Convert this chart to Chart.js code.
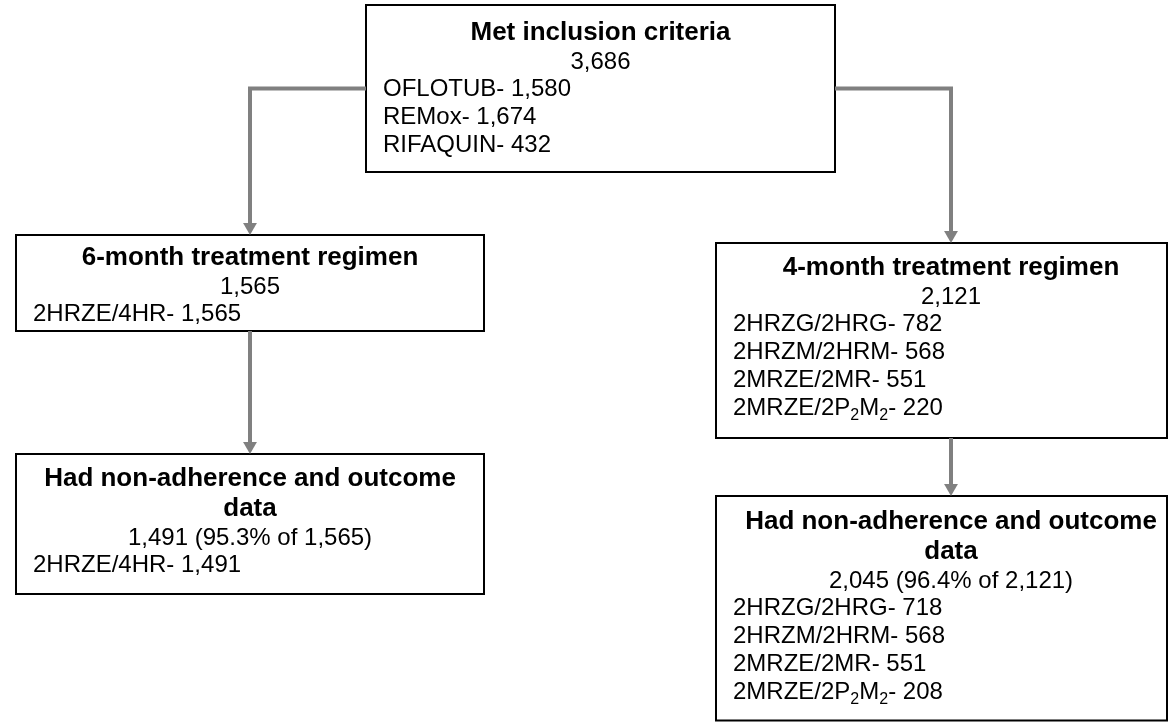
<!DOCTYPE html>
<html>
<head>
<meta charset="utf-8">
<script src="https://cdn.jsdelivr.net/npm/chart.js@4.4.1/dist/chart.umd.min.js"></script>
<style>
  html, body { margin: 0; padding: 0; background: #fff; }
  #flow { display: block; }
</style>
</head>
<body>
<canvas id="flow" width="1169" height="722"></canvas>
<script>
// Trials that met inclusion criteria
const trials = ['OFLOTUB', 'REMox', 'RIFAQUIN'];
const trialCounts = [1580, 1674, 432];

// 6-month arm
const sixMonthRegimens = ['2HRZE/4HR'];
const sixMonthCounts = [1565];
const sixMonthWithData = [1491];

// 4-month arm ("_2" marks a subscript 2)
const fourMonthRegimens = ['2HRZG/2HRG', '2HRZM/2HRM', '2MRZE/2MR', '2MRZE/2P_2M_2'];
const fourMonthCounts = [782, 568, 551, 220];
const fourMonthWithData = [718, 568, 551, 208];

const titles = {
    top: 'Met inclusion criteria',
    six: '6-month treatment regimen',
    four: '4-month treatment regimen',
    out: 'Had non-adherence and outcome data'
};

// Box geometry in chart units (x: 0..1169, y: 0..722, y downwards).
// cx = column centre used for the text and the arrows; the right column
// runs off the edge of the page so its boxes are cut short.
const boxes = {
    top:     { x: 366, y: 5,   w: 469, h: 167, cx: 600.5, pad: 35 },
    six:     { x: 16,  y: 235, w: 468, h: 96,  cx: 250,   pad: 30 },
    sixOut:  { x: 16,  y: 454, w: 468, h: 140, cx: 250,   pad: 32 },
    four:    { x: 716, y: 243, w: 451, h: 195, cx: 951,   pad: 32 },
    fourOut: { x: 716, y: 496, w: 451, h: 224.5, cx: 951, pad: 33 }
};

const FONT = '"Liberation Sans", Arial, sans-serif';
const TITLE_SIZE = 26;
const BODY_SIZE = 24;
const TITLE_PITCH = 30;
const COUNT_GAP = 28.5;
const BODY_PITCH = 27.8;
const LINE_GREY = '#808080';
const ARROW_R = 8;

const sum = arr => arr.reduce((a, b) => a + b, 0);
const fmt = n => n.toLocaleString('en-US');

function listLines(names, counts) {
    return names.map((n, i) => n + '- ' + fmt(counts[i]));
}

function pctLine(part, whole) {
    return fmt(sum(part)) + ' (' + (100 * sum(part) / sum(whole)).toFixed(1) + '% of ' + fmt(sum(whole)) + ')';
}

const content = {
    top: { title: titles.top, count: fmt(sum(trialCounts)), list: listLines(trials, trialCounts) },
    six: { title: titles.six, count: fmt(sum(sixMonthCounts)), list: listLines(sixMonthRegimens, sixMonthCounts) },
    sixOut: { title: titles.out, count: pctLine(sixMonthWithData, sixMonthCounts), list: listLines(sixMonthRegimens, sixMonthWithData) },
    four: { title: titles.four, count: fmt(sum(fourMonthCounts)), list: listLines(fourMonthRegimens, fourMonthCounts) },
    fourOut: { title: titles.out, count: pctLine(fourMonthWithData, fourMonthCounts), list: listLines(fourMonthRegimens, fourMonthWithData) }
};

function rectPoints(b) {
    return [
        { x: b.x, y: b.y }, { x: b.x + b.w, y: b.y },
        { x: b.x + b.w, y: b.y + b.h }, { x: b.x, y: b.y + b.h },
        { x: b.x, y: b.y }
    ];
}

const midY = b => b.y + b.h / 2;
const stemEnd = b => b.y - ARROW_R - 3;

// elbow connectors from the top box, straight ones below
const connectors = [
    [{ x: boxes.top.x, y: midY(boxes.top) }, { x: boxes.six.cx, y: midY(boxes.top) }, { x: boxes.six.cx, y: stemEnd(boxes.six) }],
    [{ x: boxes.top.x + boxes.top.w, y: midY(boxes.top) }, { x: boxes.four.cx, y: midY(boxes.top) }, { x: boxes.four.cx, y: stemEnd(boxes.four) }],
    [{ x: boxes.six.cx, y: boxes.six.y + boxes.six.h }, { x: boxes.sixOut.cx, y: stemEnd(boxes.sixOut) }],
    [{ x: boxes.four.cx, y: boxes.four.y + boxes.four.h }, { x: boxes.fourOut.cx, y: stemEnd(boxes.fourOut) }]
];
const arrowHeads = [boxes.six, boxes.four, boxes.sixOut, boxes.fourOut].map(b => ({ x: b.cx, y: b.y - ARROW_R }));

const datasets = [];
connectors.forEach(pts => datasets.push({
    data: pts, showLine: true, borderColor: LINE_GREY, borderWidth: 4,
    borderJoinStyle: 'miter', pointRadius: 0, tension: 0, fill: false
}));
datasets.push({
    data: arrowHeads, showLine: false, pointStyle: 'triangle', rotation: 180,
    pointRadius: ARROW_R, backgroundColor: LINE_GREY, borderWidth: 0
});
Object.values(boxes).forEach(b => datasets.push({
    data: rectPoints(b), showLine: true, borderColor: '#000', borderWidth: 2,
    borderJoinStyle: 'miter', borderCapStyle: 'square', pointRadius: 0, tension: 0, fill: false
}));

// draws text with "_n" subscripts
function drawRich(ctx, str, x, y, size) {
    let px = x;
    str.split(/(_\d)/).filter(Boolean).forEach(part => {
        if (part[0] === '_') {
            ctx.font = Math.round(size * 0.65) + 'px ' + FONT;
            ctx.fillText(part.slice(1), px, y + size * 0.22);
            px += ctx.measureText(part.slice(1)).width;
        } else {
            ctx.font = size + 'px ' + FONT;
            ctx.fillText(part, px, y);
            px += ctx.measureText(part).width;
        }
    });
}

function wrap(ctx, text, maxW) {
    const words = text.split(' ');
    const lines = [];
    let cur = '';
    words.forEach(w => {
        const test = cur ? cur + ' ' + w : w;
        if (ctx.measureText(test).width > maxW && cur) {
            lines.push(cur);
            cur = w;
        } else {
            cur = test;
        }
    });
    lines.push(cur);
    return lines;
}

const boxText = {
    id: 'boxText',
    afterDatasetsDraw(chart) {
        const { ctx, scales: { x, y } } = chart;
        ctx.save();
        ctx.fillStyle = '#000';
        ctx.textBaseline = 'alphabetic';
        Object.keys(boxes).forEach(key => {
            const b = boxes[key];
            const c = content[key];
            const left = x.getPixelForValue(b.x);
            const mid = x.getPixelForValue(b.cx);
            let yy = b.y + b.pad;

            ctx.font = 'bold ' + TITLE_SIZE + 'px ' + FONT;
            ctx.textAlign = 'center';
            const tLines = wrap(ctx, c.title, 2 * (mid - left) - 12);
            tLines.forEach((t, i) => {
                if (i > 0) yy += TITLE_PITCH;
                ctx.fillText(t, mid, y.getPixelForValue(yy));
            });

            yy += COUNT_GAP;
            ctx.font = BODY_SIZE + 'px ' + FONT;
            ctx.fillText(c.count, mid, y.getPixelForValue(yy));

            ctx.textAlign = 'left';
            c.list.forEach(line => {
                yy += BODY_PITCH;
                drawRich(ctx, line, left + 17, y.getPixelForValue(yy), BODY_SIZE);
            });
        });
        ctx.restore();
    }
};

new Chart(document.getElementById('flow'), {
    type: 'scatter',
    data: { datasets: datasets },
    options: {
        responsive: false,
        animation: false,
        events: [],
        layout: { padding: 0, autoPadding: false },
        scales: {
            x: { type: 'linear', min: 0, max: 1169, display: false },
            y: { type: 'linear', min: 0, max: 722, reverse: true, display: false }
        },
        plugins: {
            legend: { display: false },
            tooltip: { enabled: false }
        }
    },
    plugins: [boxText]
});
</script>
</body>
</html>
